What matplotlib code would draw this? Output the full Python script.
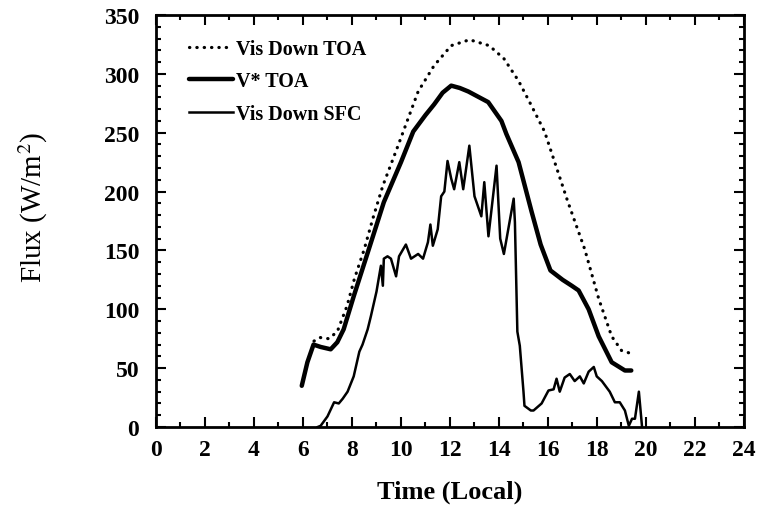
import numpy as np
import matplotlib
matplotlib.use('Agg')
import matplotlib.pyplot as plt
from matplotlib.ticker import MultipleLocator

# Vis Down TOA (dotted)
toa_hour = [6.45, 6.7, 7.05, 7.4, 7.8, 8.1, 8.5, 8.85, 9.26, 9.88, 10.2, 10.7, 11.35,
            12.05, 12.8, 13.6, 14.2, 14.8, 15.3, 15.86, 16.8, 17.5, 18.07, 18.6, 19.0, 19.3]
toa_flux = [73, 76, 75, 81, 103, 126, 151, 177, 205, 239, 257, 285, 307,
            324, 329, 324, 313, 294, 274, 251, 192, 151, 109, 77, 65, 63]

# V* TOA (thick)
vstar_hour = [5.95, 6.18, 6.43, 6.72, 7.13, 7.4, 7.66, 8.07, 8.64, 9.3, 10.0, 10.5, 11.0,
              11.35, 11.7, 12.05, 12.4, 12.75, 13.56, 14.1, 14.3, 14.8, 15.33, 15.7, 16.1,
              16.6, 16.97, 17.25, 17.66, 18.07, 18.6, 19.14, 19.4]
vstar_flux = [35, 55, 70, 68, 66, 72, 83, 111, 148, 191, 225, 251, 265,
              274, 284, 290, 288, 285, 276, 260, 249, 225, 183, 155, 133,
              125, 120, 116, 100, 77, 55, 48, 48]

# Vis Down SFC (thin)
sfc_hour = [6.6, 6.72, 7.0, 7.27, 7.46, 7.62, 7.82, 8.07, 8.3, 8.43, 8.64, 8.77, 9.0,
            9.18, 9.26, 9.3, 9.45, 9.59, 9.8, 9.92, 10.2, 10.41, 10.7, 10.9, 11.1,
            11.2, 11.3, 11.5, 11.64, 11.77, 11.9, 12.05, 12.17, 12.38, 12.54, 12.79,
            13.0, 13.28, 13.4, 13.57, 13.9, 14.05, 14.2, 14.6, 14.65, 14.75, 14.85,
            15.0, 15.04, 15.3, 15.41, 15.74, 16.02, 16.23, 16.35, 16.48, 16.68, 16.89,
            17.09, 17.3, 17.46, 17.66, 17.87, 17.99, 18.2, 18.52, 18.73, 18.93, 19.14,
            19.3, 19.43, 19.55, 19.71, 19.84]
sfc_flux = [0, 1, 9, 21, 20, 24, 30, 43, 64, 70, 83, 94, 115,
            137, 120, 143, 145, 143, 128, 145, 155, 143, 147, 143, 157,
            172, 154, 168, 196, 200, 226, 211, 202, 225, 202, 239,
            196, 179, 208, 162, 222, 160, 147, 194, 174, 81, 69,
            30, 18, 14, 14, 20, 31, 32, 41, 30, 42, 45,
            39, 43, 37, 47, 51, 43, 39, 30, 21, 21, 14,
            1, 7, 7, 30, 0]

plt.rcParams['font.family'] = ['Liberation Serif', 'DejaVu Serif']
plt.rcParams['mathtext.fontset'] = 'stix'

fig = plt.figure(figsize=(7.58, 5.10), dpi=100)
ax = fig.add_axes([0.2058, 0.1608, 0.7757, 0.8078])

ax.plot(toa_hour, toa_flux, color='black', lw=2.3, linestyle=(0, (0.1, 2.2)),
        dash_capstyle='round', label='Vis Down TOA')
ax.plot(vstar_hour, vstar_flux, color='black', lw=3.2, solid_capstyle='round',
        solid_joinstyle='round', label='V* TOA')
ax.plot(sfc_hour, sfc_flux, color='black', lw=1.8, solid_joinstyle='round',
        label='Vis Down SFC')

ax.set_xlim(0, 24)
ax.set_ylim(0, 350)
ax.xaxis.set_major_locator(MultipleLocator(2))
ax.xaxis.set_minor_locator(MultipleLocator(1))
ax.yaxis.set_major_locator(MultipleLocator(50))
ax.yaxis.set_minor_locator(MultipleLocator(10))
ax.tick_params(which='both', direction='in', top=True, right=True, width=1.5)
ax.tick_params(which='major', length=7, labelsize=17)
ax.tick_params(axis='x', which='major', pad=9)
ax.tick_params(axis='y', which='major', pad=12)
ax.tick_params(which='minor', length=3.5)
for lab in ax.get_xticklabels() + ax.get_yticklabels():
    lab.set_fontweight('bold')
for spine in ax.spines.values():
    spine.set_linewidth(2)

ax.set_xlabel('Time (Local)', fontsize=19, fontweight='bold')
ax.xaxis.set_label_coords(0.5, -0.128)
ax.set_ylabel('Flux (W/m$^2$)', fontsize=21)
ax.yaxis.set_label_coords(-0.18, 0.536)

leg = ax.legend(loc='upper left', bbox_to_anchor=(0.056, 0.942), frameon=False,
                borderpad=0, borderaxespad=0, handlelength=2.2, handletextpad=0.15,
                labelspacing=0.62, prop={'size': 14.5, 'weight': 'bold'})

fig.savefig('out.png', dpi=100)
